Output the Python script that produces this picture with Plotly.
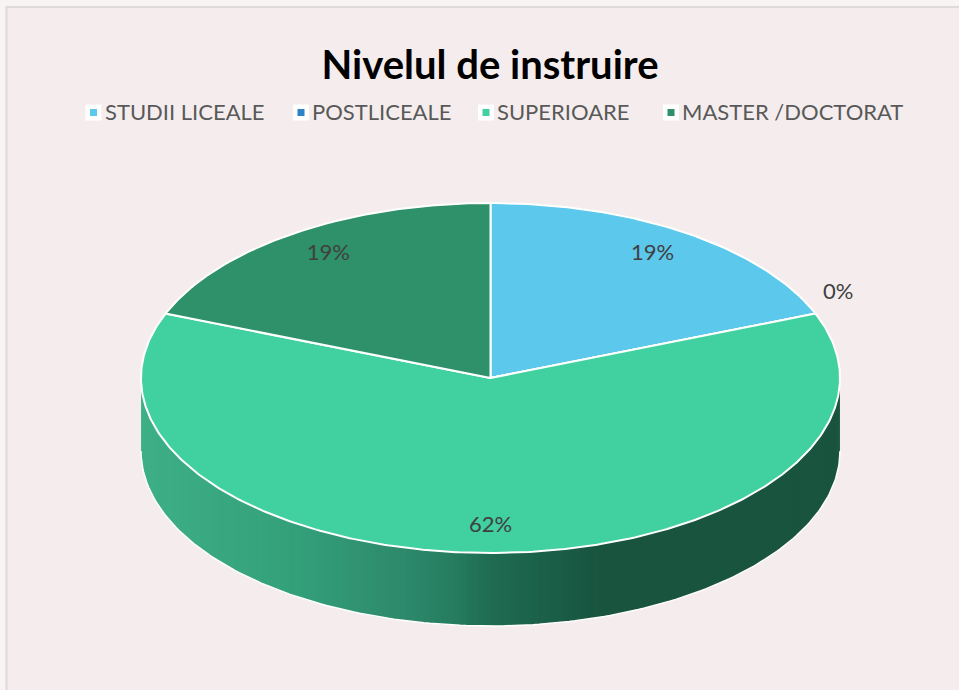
import numpy as np
import plotly.graph_objects as go

# ---- data ----
categories = ["STUDII LICEALE", "POSTLICEALE", "SUPERIOARE", "MASTER /DOCTORAT"]
values = [19, 0, 62, 19]
labels = ["19%", "0%", "62%", "19%"]
title_text = "Nivelul de instruire"

# ---- styles ----
colors = ["#5BC8EC", "#2E83C6", "#41D0A0", "#2E9169"]
side_pos = [-1.0, -0.55, -0.25, -0.1, 0.0, 0.32, 1.0]
side_rgb = [(62, 176, 135), (52, 160, 122), (46, 138, 108), (38, 124, 95), (31, 108, 82), (25, 84, 63), (25, 84, 63)]
label_color = "#404040"
legend_x = [93.5, 301, 486, 671]
FONT = "Lato"
W, H = 959, 690
CX, CY, RX, RY = 490.5, 378.0, 349.5, 175.0
DEPTH = 73.0 / RY
label_rx, label_ry = 0.825, 0.85

x_range = [-CX / RX, (W - CX) / RX]
y_range = [-(H - CY) / RY, CY / RY]

fig = go.Figure()

# side wall with a left-to-right shading
thetas = np.linspace(np.pi / 2, 3 * np.pi / 2, 181)
for i in range(len(thetas) - 1):
    t0, t1 = thetas[-1 - i], thetas[max(-len(thetas), -3 - i)]
    seg = np.linspace(t0, t1, 4)
    xs = np.sin(seg)
    ys = np.cos(seg)
    px = np.concatenate([xs, xs[::-1]])
    py = np.concatenate([ys, ys[::-1] - DEPTH])
    mid = np.sin((thetas[-1 - i] + thetas[-2 - i]) / 2)
    rgb = [np.interp(mid, side_pos, [c[k] for c in side_rgb]) for k in range(3)]
    col = "rgb(%d,%d,%d)" % tuple(rgb)
    fig.add_trace(go.Scatter(x=px, y=py, mode="lines", fill="toself", fillcolor=col,
                             line=dict(width=0, color=col), hoverinfo="skip", showlegend=False))

# white rim of the base
rim = np.linspace(np.pi / 2, 3 * np.pi / 2, 181)
fig.add_trace(go.Scatter(x=np.sin(rim), y=np.cos(rim) - DEPTH, mode="lines",
                         line=dict(color="white", width=1.5), hoverinfo="skip", showlegend=False))

# top slices
total = sum(values)
start = 0.0
mids = []
for name, v, c in zip(categories, values, colors):
    a0 = start / total * 2 * np.pi
    a1 = (start + v) / total * 2 * np.pi
    mids.append((a0 + a1) / 2)
    t = np.linspace(a0, a1, max(2, int(v * 6)))
    xs = np.concatenate([[0], np.sin(t), [0]])
    ys = np.concatenate([[0], np.cos(t), [0]])
    fig.add_trace(go.Scatter(x=xs, y=ys, mode="lines", fill="toself", fillcolor=c,
                             line=dict(color="white", width=2), name=name,
                             hoverinfo="name", showlegend=False))
    start += v

# data labels
lx, ly = [], []
for v, m in zip(values, mids):
    if v == 0:
        lx.append(1.07 * np.sin(m))
        ly.append(1.31 * np.cos(m))
    else:
        lx.append(label_rx * np.sin(m))
        ly.append(label_ry * np.cos(m))
fig.add_trace(go.Scatter(x=lx, y=ly, mode="text", text=labels,
                         textfont=dict(family=FONT, size=22, color=label_color),
                         hoverinfo="skip", showlegend=False))

# legend row
leg_y = 111.5
for name, c, lxp in zip(categories, colors, legend_x):
    px_x = [(lxp - CX) / RX]
    px_y = [(CY - leg_y - 1) / RY]
    fig.add_trace(go.Scatter(x=px_x, y=px_y, mode="markers",
                             marker=dict(symbol="square", size=16, color="white"),
                             hoverinfo="skip", showlegend=False))
    fig.add_trace(go.Scatter(x=px_x, y=px_y, mode="markers",
                             marker=dict(symbol="square", size=7, color=c),
                             name=name, hoverinfo="name", showlegend=False))
    fig.add_annotation(x=(lxp + 9) / W, y=1 - leg_y / H, xref="paper", yref="paper",
                       xanchor="left", yanchor="middle", showarrow=False, text=name,
                       font=dict(family=FONT, size=22, color="#595959"))

fig.update_layout(
    width=W, height=H, autosize=False,
    margin=dict(l=0, r=0, t=0, b=0),
    paper_bgcolor="#F8F4F4", plot_bgcolor="rgba(0,0,0,0)",
    xaxis=dict(range=x_range, visible=False, fixedrange=True),
    yaxis=dict(range=y_range, visible=False, fixedrange=True),
    title=dict(text="<b>%s</b>" % title_text, x=490 / W, y=1 - 65 / H, xanchor="center", yanchor="middle",
               font=dict(family=FONT, size=40, color="#000000")),
    shapes=[dict(type="rect", xref="paper", yref="paper", x0=6.5 / W, x1=1.05, y0=-0.05, y1=1 - 7 / H,
                 line=dict(color="#DDDAD9", width=2), fillcolor="#F5EDED", layer="below")],
)
fig.write_html("out.html", config={"displayModeBar": False}, post_script="document.body.style.margin='0';")
